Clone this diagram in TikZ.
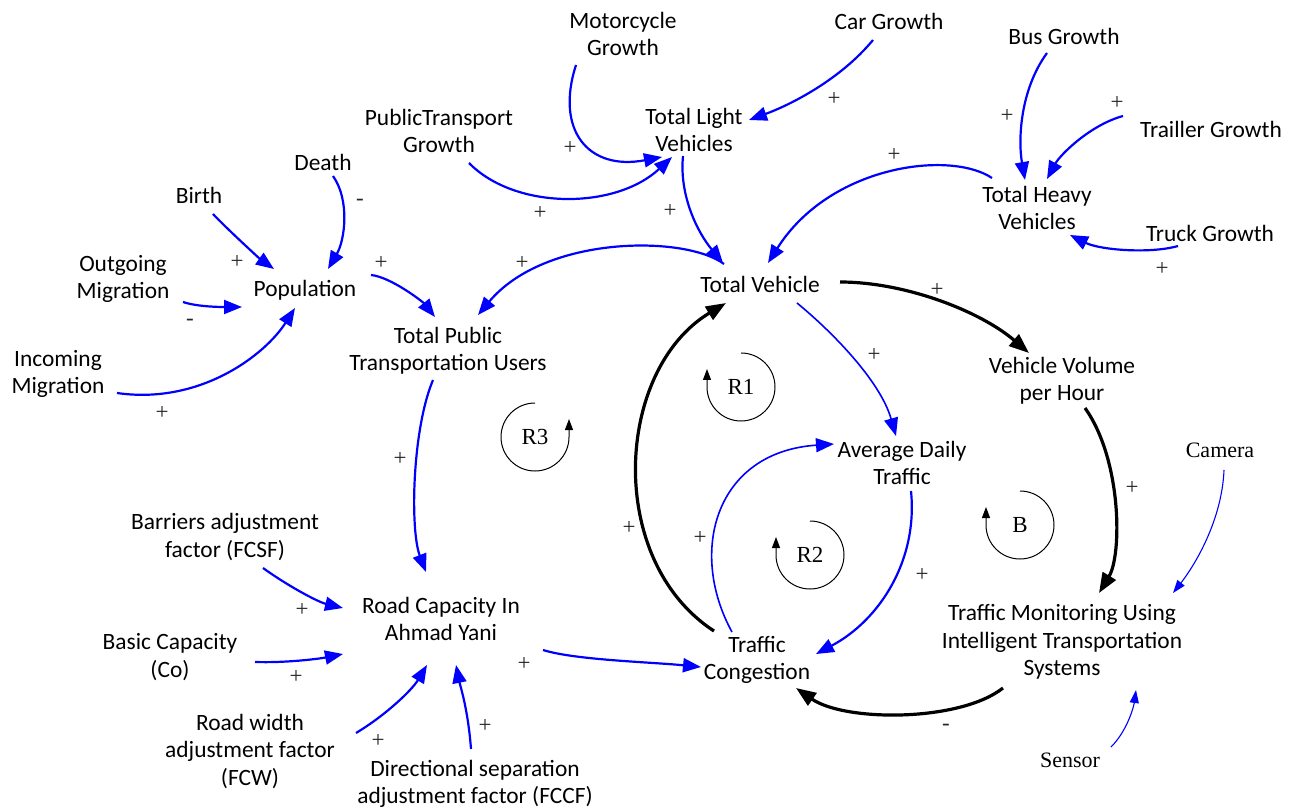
\documentclass[tikz,border=0pt]{standalone}
\usepackage{fontspec}
\setmainfont{Carlito}
\newfontfamily\loopfont{Liberation Serif}
\usetikzlibrary{arrows.meta}
\tikzset{
  var/.style={align=center, inner sep=0pt, font=\fontsize{23.4}{27.5}\selectfont},
  ext/.style={inner sep=0pt, font=\loopfont\fontsize{22}{26}\selectfont},
  loopname/.style={inner sep=0pt, font=\loopfont\fontsize{23}{27}\selectfont},
  sgn/.style={inner sep=0pt, text=black!85, font=\loopfont\fontsize{23}{27}\selectfont},
  link/.style={draw=blue, line width=2.2pt, -{Triangle[length=18pt,width=14pt]}},
  thinlink/.style={link, line width=1.6pt},
  sense/.style={draw=blue, line width=1.1pt, -{Triangle[length=13pt,width=9pt]}},
  strong/.style={draw=black, line width=3.2pt, -{Triangle[length=20pt,width=15pt]}},
  loopmark/.style={draw=black, line width=1pt, -{Triangle[length=11pt,width=8pt]}},
}
\begin{document}
\begin{tikzpicture}[x=1pt,y=-1pt]
\useasboundingbox (0,0) rectangle (1294,810);

% ---- variables ----
\node[var] (motor) at (623,34)  {Motorcycle\\Growth};
\node[var] (car)   at (889,21)  {Car Growth};
\node[var] (bus)   at (1064,36) {Bus Growth};
\node[var] (trail) at (1211,129) {Trailler Growth};
\node[var] (truck) at (1210,233) {Truck Growth};
\node[var] (tlv)   at (694,130) {Total Light\\Vehicles};
\node[var] (ptg)   at (439,131) {PublicTransport\\Growth};
\node[var] (thv)   at (1037,208) {Total Heavy\\Vehicles};
\node[var] (death) at (323,162) {Death};
\node[var] (birth) at (199,195) {Birth};
\node[var] (outm)  at (123,279) {Outgoing\\Migration};
\node[var] (pop)   at (305,290) {Population};
\node[var] (inm)   at (58,374)  {Incoming\\Migration};
\node[var] (tptu)  at (448,351) {Total Public\\Transportation Users};
\node[var] (tv)    at (760,284) {Total Vehicle};
\node[var] (vvh)   at (1062,381) {Vehicle Volume\\per Hour};
\node[var] (adt)   at (902,463) {Average Daily\\Traffic};
\node[var] (barr)  at (225,537) {Barriers adjustment\\factor (FCSF)};
\node[var] (rc)    at (441,619) {Road Capacity In\\Ahmad Yani};
\node[var] (basic) at (170,657) {Basic Capacity\\(Co)};
\node[var] (rw)    at (250,751) {Road width\\adjustment factor\\(FCW)};
\node[var] (dir)   at (475,784) {Directional separation\\adjustment factor (FCCF)};
\node[var] (tc)    at (757,660) {Traffic\\Congestion};
\node[var] (tm)    at (1062,642) {Traffic Monitoring Using\\Intelligent Transportation\\Systems};
\node[ext] (cam)    at (1220,450) {Camera};
\node[ext] (sensor) at (1070,760) {Sensor};

% ---- loop names ----
\node[loopname] (R1) at (741,387) {R1};
\node[loopname] (R2) at (810,555) {R2};
\node[loopname] (Bl) at (1020,525) {B};
\node[loopname] (R3) at (535,437) {R3};

% ---- loop markers ----
\foreach \lp in {R1,R2,Bl}{
  \draw[loopmark] ([shift={(-90:34)}]\lp.center) arc[start angle=-90, end angle=180, radius=34] -- ++(0,-18);
}
\draw[loopmark] ([shift={(270:34)}]R3.center) arc[start angle=270, end angle=0, radius=34] -- ++(0,-18);

% ---- population sector ----
\draw[link] ([shift={(14,19)}]birth.center) .. controls +(12,13) and +(-14,-10) .. ([shift={(-31,-21)}]pop.center);
\draw[link] ([shift={(10,14)}]death.center) .. controls +(17,24) and +(17,-29) .. ([shift={(23,-21)}]pop.center);
\draw[link] ([shift={(60,23)}]outm.center) .. controls +(15,5) and +(-20,0) .. ([shift={(-63,17)}]pop.center);
\draw[link] ([shift={(59,19)}]inm.center) .. controls +(83,12) and +(-30,47) .. ([shift={(-10,18)}]pop.center);
\draw[link] ([shift={(66,-15)}]pop.center) .. controls +(20,2) and +(-12,-15) .. ([shift={(-13,-34)}]tptu.center);

% ---- vehicle growth ----
\draw[link] ([shift={(30,32)}]ptg.center) .. controls +(46,47) and +(-57,53) .. ([shift={(-22,27)}]tlv.center);
\draw[link] ([shift={(-47,31)}]motor.center) .. controls +(-21,65) and +(-74,14) .. ([shift={(-32,27)}]tlv.center);
\draw[link] ([shift={(-16,19)}]car.center) .. controls +(-33,40) and +(41,-15) .. ([shift={(55,-10)}]tlv.center);
\draw[link] ([shift={(-11,26)}]tlv.center) .. controls +(-4,40) and +(-25,-30) .. ([shift={(-37,-21)}]tv.center);
\draw[link] ([shift={(-45,-30)}]thv.center) .. controls +(-42,-28) and +(62,-98) .. ([shift={(8,-21)}]tv.center);
\draw[link] ([shift={(-36,-20)}]tv.center) .. controls +(-39,-29) and +(67,-80) .. ([shift={(30,-36)}]tptu.center);
\draw[link] ([shift={(-17,17)}]bus.center) .. controls +(-27,37) and +(-7,-40) .. ([shift={(-12,-28)}]thv.center);
\draw[link] ([shift={(-88,-13)}]trail.center) .. controls +(-33,9) and +(13,-24) .. ([shift={(10,-29)}]thv.center);
\draw[link] ([shift={(-32,13)}]truck.center) .. controls +(-28,8) and +(30,15) .. ([shift={(33,27)}]thv.center);

% ---- traffic sector ----
\draw[strong] ([shift={(80,-2)}]tv.center) .. controls +(65,0) and +(-49,-42) .. ([shift={(-33,-28)}]vvh.center);
\draw[thinlink] ([shift={(37,19)}]tv.center) .. controls +(33,27) and +(-16,-56) .. ([shift={(-6,-27)}]adt.center);
\draw[strong] ([shift={(23,27)}]vvh.center) .. controls +(37,52) and +(23,-38) .. ([shift={(37,-49)}]tm.center);
\draw[sense] ([shift={(4,20)}]cam.center) .. controls +(-2,50) and +(22,-28) .. ([shift={(111,-49)}]tm.center);
\draw[sense] ([shift={(41,-13)}]sensor.center) .. controls +(17,-17) and +(-2,15) .. ([shift={(74,48)}]tm.center);
\draw[strong] ([shift={(-59,46)}]tm.center) .. controls +(-43,34) and +(49,34) .. ([shift={(39,28)}]tc.center);
\draw[link] ([shift={(9,28)}]adt.center) .. controls +(7,69) and +(64,-34) .. ([shift={(59,-6)}]tc.center);
\draw[thinlink] ([shift={(-25,-28)}]tc.center) .. controls +(-44,-80) and +(-119,8) .. ([shift={(-68,-19)}]adt.center);
\draw[strong] ([shift={(-43,-29)}]tc.center) .. controls +(-109,-71) and +(-111,67) .. ([shift={(-34,19)}]tv.center);

% ---- road capacity ----
\draw[link] ([shift={(-15,29)}]tptu.center) .. controls +(-21,50) and +(-16,-42) .. ([shift={(-15,-47)}]rc.center);
\draw[link] ([shift={(38,31)}]barr.center) .. controls +(25,18) and +(-25,-6) .. ([shift={(-98,-11)}]rc.center);
\draw[link] ([shift={(85,5)}]basic.center) .. controls +(30,1) and +(-25,5) .. ([shift={(-98,35)}]rc.center);
\draw[link] ([shift={(106,-18)}]rw.center) .. controls +(30,-18) and +(-15,25) .. ([shift={(-14,46)}]rc.center);
\draw[link] ([shift={(-4,-35)}]dir.center) .. controls +(-3,-40) and +(4,20) .. ([shift={(15,46)}]rc.center);
\draw[link] ([shift={(102,31)}]rc.center) .. controls +(32,10) and +(-51,-5) .. ([shift={(-56,7)}]tc.center);

% ---- polarities ----
\node[sgn] (p1)  at (237,262) {+};
\node[sgn] (p2)  at (360,202) {-};
\node[sgn] (p3)  at (190,322) {-};
\node[sgn] (p4)  at (162,413) {+};
\node[sgn] (p5)  at (381,263) {+};
\node[sgn] (p6)  at (570,148) {+};
\node[sgn] (p7)  at (540,213) {+};
\node[sgn] (p8)  at (834,99)  {+};
\node[sgn] (p9)  at (670,211) {+};
\node[sgn] (p10) at (522,263) {+};
\node[sgn] (p11) at (1007,116) {+};
\node[sgn] (p12) at (1117,103) {+};
\node[sgn] (p13) at (894,155) {+};
\node[sgn] (p14) at (1162,269) {+};
\node[sgn] (p15) at (937,290) {+};
\node[sgn] (p16) at (874,355) {+};
\node[sgn] (p17) at (1132,488) {+};
\node[sgn] (p18) at (922,575) {+};
\node[sgn] (p19) at (700,538) {+};
\node[sgn] (p20) at (629,528) {+};
\node[sgn] (p21) at (946,727) {-};
\node[sgn] (p22) at (400,459) {+};
\node[sgn] (p23) at (302,610) {+};
\node[sgn] (p24) at (296,677) {+};
\node[sgn] (p25) at (378,741) {+};
\node[sgn] (p26) at (485,726) {+};
\node[sgn] (p27) at (524,664) {+};
\end{tikzpicture}
\end{document}
